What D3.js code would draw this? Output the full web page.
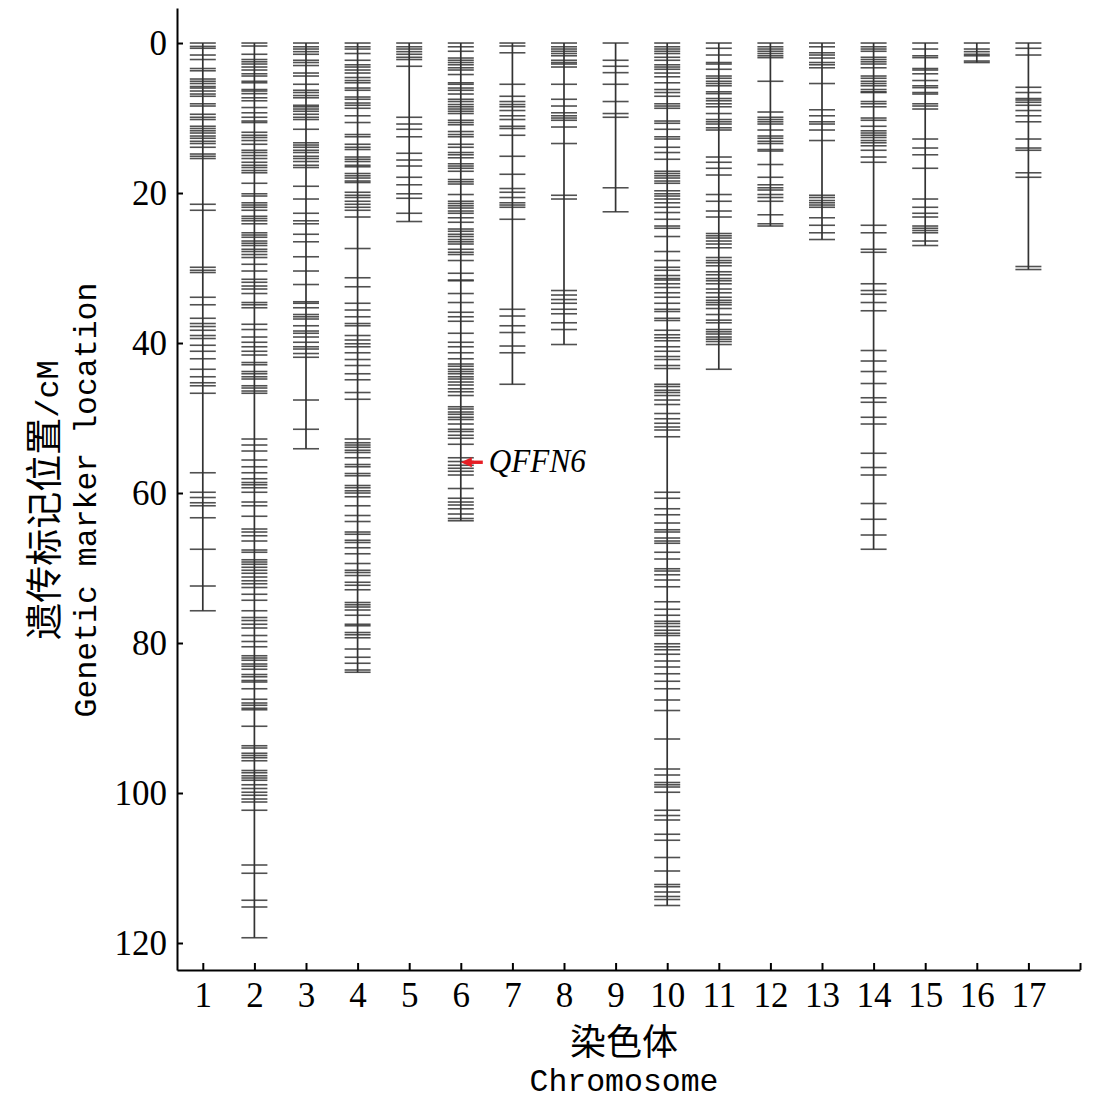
<!DOCTYPE html>
<html>
<head>
<meta charset="utf-8">
<script src="https://cdn.jsdelivr.net/npm/d3@7"></script>
<style>
  body { margin: 0; background: #fff; }
</style>
</head>
<body>
<svg id="map" width="1102" height="1109"></svg>
<script>
// marker positions (cM), one array per chromosome
var chr1 = [0,0.45,0.7,1.6,2.2,3.4,3.7,4.8,5.1,5.4,5.8,6.0,6.4,6.8,7.1,8.1,8.4,9.5,9.9,10.2,11.1,11.4,11.7,12.0,12.4,12.7,13.1,13.4,13.9,14.8,15.1,15.4,21.5,22.3,29.9,30.3,30.6,33.9,34.9,36.7,37.4,37.8,38.3,39.0,39.4,40.3,41.1,42.1,43.5,44.5,45.3,45.7,46.7,57.3,59.9,60.6,61.3,61.7,63.3,67.5,72.4,75.7];
var chr2 = [0,0.4,1.5,2.2,2.5,2.8,3.2,3.6,4.1,4.4,5.1,5.3,6.2,6.4,6.75,7.3,7.7,8.6,9.3,9.9,10.4,10.6,11.9,12.3,12.6,13.0,13.5,14.3,14.6,15.0,15.4,15.9,16.3,16.6,17.0,17.3,18.7,20.1,20.4,21.3,21.6,21.9,22.3,23.1,23.4,23.7,24.1,25.3,25.6,25.9,26.4,26.7,27.0,27.5,27.8,28.2,28.6,29.5,30.4,31.5,31.9,32.4,32.8,33.4,34.6,34.9,35.3,37.5,38.2,39.2,39.9,40.5,41.1,41.6,
  42.6,42.9,43.8,44.1,44.5,44.8,45.7,46.0,46.4,46.7,52.8,53.6,54.4,55.6,56.5,57.3,58.1,58.6,58.9,59.3,59.9,61.2,61.7,63.1,64.8,65.2,65.7,66.4,67.6,67.9,68.9,69.2,69.5,69.9,70.3,70.7,71.2,71.7,72.1,72.6,73.5,74.3,75.7,76.6,77.0,77.5,78.0,79.0,79.8,80.5,81.7,82.0,82.3,82.8,83.1,
  83.5,84.2,84.5,85.0,85.2,86.1,87.5,88.0,88.3,88.7,88.9,91.1,93.7,94.0,94.7,95.0,95.3,95.7,97.0,97.3,97.7,98.0,98.3,98.9,99.4,99.9,100.3,100.8,101.2,102.3,109.6,110.7,114.3,115.2,119.3];
var chr3 = [0,0.5,0.8,1.15,1.5,2.3,2.6,3.0,4.0,4.4,5.5,6.3,6.6,7.0,7.3,8.3,8.5,8.8,9.1,9.5,9.9,10.2,11.5,13.3,13.6,13.9,14.3,14.6,15.1,15.4,15.8,16.3,16.6,19.1,20.8,22.7,23.7,24.1,25.5,26.5,28.5,30.4,32.2,34.5,34.7,35.3,36.2,36.5,36.8,37.7,38.4,38.7,39.2,39.9,40.5,40.8,41.4,41.9,47.6,51.5,54.1];
var chr4 = [0,0.5,0.8,1.4,2.3,2.9,3.2,3.6,4.0,4.6,5.0,5.3,6.0,6.3,7.2,7.5,8.0,8.3,8.7,9.7,10.6,12.2,12.5,13.5,13.9,14.2,15.2,15.5,15.8,16.3,16.5,17.4,17.7,18.0,18.4,18.6,19.9,20.3,20.6,21.1,21.5,21.9,22.3,23.2,27.4,31.3,32.5,34.7,35.6,36.5,37.4,37.7,39.0,39.6,40.1,40.5,41.3,42.2,43.0,44.1,44.9,46.6,47.5,
  52.8,53.3,53.6,53.9,54.3,54.6,55.3,56.2,56.5,57.4,57.7,59.0,59.3,59.7,60.0,60.5,61.7,63.0,63.8,65.2,65.5,66.3,66.6,67.3,68.1,69.4,70.3,70.6,71.0,71.9,72.3,72.9,74.6,74.9,75.2,75.6,76.3,77.5,77.7,78.6,78.9,79.3,80.8,81.9,82.7,83.6,83.9];
var chr5 = [0,0.5,0.8,1.15,1.5,1.9,2.2,3.1,9.9,10.8,11.5,12.5,14.7,15.6,16.4,17.9,18.9,20.1,20.7,22.7,23.8];
var chr6 = [0,0.5,1.1,2.0,2.3,2.6,2.9,3.3,3.6,4.2,5.3,5.5,6.0,6.3,6.8,7.5,7.8,8.2,8.5,8.8,9.1,9.4,10.3,10.6,10.9,11.8,12.2,12.5,13.5,13.9,14.6,14.9,15.3,16.1,16.4,16.7,17.1,18.2,18.5,18.8,20.2,21.1,21.4,21.7,22.0,22.4,22.7,23.3,23.9,24.8,25.1,25.5,25.8,26.2,26.5,26.8,27.5,27.9,28.2,29.0,30.7,31.6,31.7,33.4,34.6,35.9,36.5,37.1,38.7,39.9,40.5,41.3,42.1,
  42.8,43.1,43.5,43.8,44.1,44.5,44.8,45.2,45.6,46.1,46.5,47.0,48.5,48.8,49.2,49.5,49.9,50.2,50.8,51.5,51.8,52.3,52.7,53.5,55.3,55.8,56.3,56.7,57.1,57.6,59.4,60.7,61.2,61.6,62.1,62.8,63.4,63.7];
var chr7 = [0,0.4,1.3,5.5,7.1,7.8,8.2,8.5,9.0,9.7,10.2,11.1,11.4,12.3,15.1,17.5,19.4,19.9,20.6,21.3,21.6,21.9,23.5,35.5,36.4,37.7,38.6,40.4,41.3,45.5];
var chr8 = [0,0.5,0.8,1.1,1.4,1.7,2.3,2.6,2.8,3.2,5.5,7.5,8.4,9.3,9.7,10.0,10.3,11.2,13.4,20.3,20.8,33.0,33.6,34.2,34.7,35.5,36.1,37.3,38.2,40.2];
var chr9 = [0,2.3,3.1,3.95,5.5,7.8,9.4,9.9,19.3,22.5];
var chr10 = [0,0.5,0.8,1.1,1.4,1.9,2.3,2.9,3.2,3.5,4.0,4.5,5.3,6.2,6.6,7.1,8.1,8.4,8.7,10.4,10.7,11.5,12.5,12.8,13.9,14.6,15.5,17.1,17.4,17.7,18.0,18.4,18.7,19.7,20.1,20.4,20.8,21.3,21.9,22.6,23.5,24.4,24.7,25.8,27.8,29.0,29.9,30.3,31.0,31.4,31.6,32.1,32.6,33.3,33.9,34.7,35.5,35.8,36.7,37.0,38.3,38.9,39.3,39.7,40.5,41.1,
  41.8,42.2,43.0,43.4,45.5,45.8,46.3,46.6,47.0,47.6,48.2,49.4,50.1,50.7,51.2,51.6,52.5,59.9,60.7,62.1,62.9,64.0,64.9,65.2,66.0,66.4,66.7,67.9,68.8,70.1,70.4,70.9,71.6,72.5,74.5,75.5,76.3,77.1,77.4,77.8,78.3,78.7,79.0,80.1,80.5,80.9,81.5,82.4,83.2,
  84.1,85.1,86.1,87.6,89.0,92.8,96.8,97.6,98.6,98.9,99.2,99.9,102.3,103.0,103.6,105.5,106.3,108.6,110.4,112.2,112.5,113.2,113.8,114.2,115.0];
var chr11 = [0,0.7,1.6,2.6,2.8,3.5,4.4,4.7,5.1,5.4,5.7,6.5,6.75,7.4,7.7,8.1,8.5,9.4,10.2,10.5,10.8,11.3,11.6,15.2,15.9,16.7,17.6,20.2,21.1,22.4,23.2,25.4,25.7,26.0,26.4,26.8,27.3,28.6,29.0,29.3,29.7,30.5,30.9,31.4,31.7,32.1,32.8,33.3,33.9,34.3,34.6,34.9,35.4,36.2,36.95,37.3,38.2,38.5,38.8,39.2,39.5,39.8,40.2,43.5];
var chr12 = [0,0.5,0.8,1.1,1.4,1.7,1.95,5.1,9.2,9.9,10.2,10.5,10.8,11.6,12.4,12.7,13.1,13.4,14.2,14.4,16.2,17.9,18.9,19.3,19.6,20.2,20.6,21.1,22.9,24.1,24.4];
var chr13 = [0,0.5,1.3,1.6,2.0,2.6,2.9,3.3,5.4,8.9,9.7,10.5,10.8,11.6,13.0,20.3,20.6,21.0,21.3,21.6,21.9,23.3,24.3,25.3,26.2];
var chr14 = [0,0.5,0.8,1.1,1.9,2.2,2.5,2.8,3.3,4.4,4.7,5.1,5.4,5.7,6.2,6.5,6.6,7.8,8.1,8.5,10.0,10.3,11.1,11.7,12.0,12.3,12.6,13.0,13.3,13.7,14.3,15.2,15.9,24.3,25.3,27.5,27.9,32.1,33.0,33.5,34.6,35.7,41.0,42.4,43.8,45.4,47.3,47.9,49.9,50.8,54.7,56.6,57.6,61.4,63.5,65.6,67.5];
var chr15 = [0,0.8,1.7,1.95,3.4,3.6,4.1,5.0,5.7,5.95,6.6,6.8,8.1,8.4,8.8,12.8,14.0,14.9,16.7,20.8,21.9,22.7,23.2,24.4,24.7,25.0,25.3,26.4,27.0];
var chr16 = [0,0.8,1.15,1.5,1.7,2.4,2.6];
var chr17 = [0,0.7,1.6,5.9,6.6,7.4,7.6,7.9,8.3,9.0,9.7,10.5,12.8,14.0,14.3,17.3,17.9,29.8,30.2];

var chromosomes = [1,2,3,4,5,6,7,8,9,10,11,12,13,14,15,16,17];
var markerSets = [chr1,chr2,chr3,chr4,chr5,chr6,chr7,chr8,chr9,chr10,chr11,chr12,chr13,chr14,chr15,chr16,chr17];
var yTicks = [0,20,40,60,80,100,120];

// QTL annotation
var qtlName = "QFFN6";
var qtlChrom = 6;
var qtlPos = 55.9;

var svg = d3.select("#map");

var x = d3.scaleLinear().domain([0.5, 18]).range([177, 1080]);
var y = d3.scaleLinear().domain([-4.67, 123.6]).range([8, 970]);

var serif = "'Liberation Serif', 'Times New Roman', serif";
var mono = "'Liberation Mono', 'Courier New', monospace";
var cjk = "'Noto Sans CJK SC', sans-serif";

// chromosomes
var data = chromosomes.map(function(c, i) { return { chrom: c, pos: markerSets[i] }; });

var chromG = svg.append("g")
  .selectAll("g")
  .data(data)
  .enter().append("g")
    .attr("transform", d => "translate(" + x(d.chrom) + ",0)");

chromG.append("line")
  .attr("x1", 0).attr("x2", 0)
  .attr("y1", d => y(0))
  .attr("y2", d => y(d3.max(d.pos)))
  .style("stroke", "#333")
  .style("stroke-width", 1.7);

chromG.selectAll("line.mk")
  .data(d => d.pos)
  .enter().append("line")
    .attr("class", "mk")
    .attr("x1", -13).attr("x2", 13)
    .attr("y1", d => y(d)).attr("y2", d => y(d))
    .style("stroke", "#333")
    .style("stroke-width", 1.6)
    .style("opacity", 0.85);

// axes
var yAxis = svg.append("g")
  .attr("transform", "translate(177,0)")
  .call(d3.axisLeft(y).tickValues(yTicks).tickSize(-6).tickSizeOuter(0).tickPadding(10));

var xAxis = svg.append("g")
  .attr("transform", "translate(0,970)")
  .call(d3.axisBottom(x).tickValues(chromosomes.concat([18]))
    .tickFormat(d => d <= 17 ? d : "")
    .tickSize(-7).tickSizeOuter(0).tickPadding(12));

[yAxis, xAxis].forEach(function(a) {
  a.select(".domain").style("stroke", "#000").style("stroke-width", 2);
  a.selectAll(".tick line").style("stroke", "#000").style("stroke-width", 2);
  a.selectAll(".tick text")
    .style("font-family", serif)
    .style("font-size", "35px")
    .style("fill", "#000");
});

// axis titles
var xt = svg.append("text")
  .attr("text-anchor", "middle")
  .attr("x", 624);
xt.append("tspan").attr("x", 624).attr("y", 1055)
  .style("font-family", cjk).style("font-size", "36px").text("染色体");
xt.append("tspan").attr("x", 624).attr("y", 1091)
  .style("font-family", mono).style("font-size", "31.5px").text("Chromosome");

var yt = svg.append("g").attr("transform", "translate(0,500) rotate(-90)");
var yt1 = yt.append("text").attr("text-anchor", "middle").attr("y", 58);
yt1.append("tspan").style("font-family", cjk).style("font-size", "37px").text("遗传标记位置");
yt1.append("tspan").style("font-family", mono).style("font-size", "32px").text("/cM");
yt.append("text").attr("text-anchor", "middle").attr("y", 96)
  .style("font-family", mono).style("font-size", "31.5px")
  .text("Genetic marker location");

// QTL arrow and label
var ax = x(qtlChrom), ay = y(qtlPos);
svg.append("line")
  .attr("x1", ax + 9).attr("x2", ax + 22)
  .attr("y1", ay).attr("y2", ay)
  .style("stroke", "#e61e25").style("stroke-width", 3.4);
svg.append("path")
  .attr("d", "M" + ax + "," + ay + "L" + (ax + 11) + "," + (ay - 5) + "L" + (ax + 11) + "," + (ay + 5) + "Z")
  .style("fill", "#e61e25");
svg.append("text")
  .attr("x", ax + 28).attr("y", ay + 10)
  .attr("textLength", 97).attr("lengthAdjust", "spacingAndGlyphs")
  .style("font-family", serif).style("font-style", "italic")
  .style("font-size", "34px").style("fill", "#000")
  .text(qtlName);
</script>
</body>
</html>
